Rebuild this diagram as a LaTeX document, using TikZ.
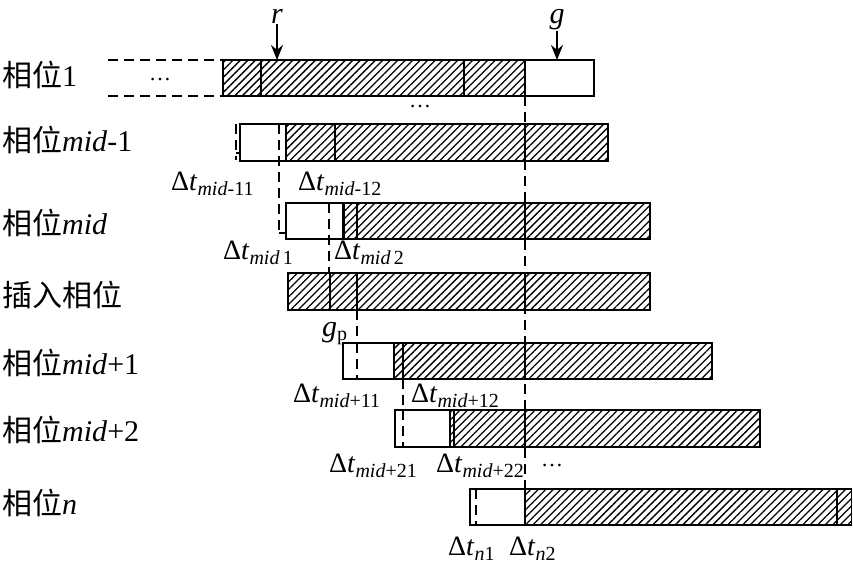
\documentclass[tikz,border=0pt]{standalone}
\usepackage{fontspec}
\setmainfont{Liberation Serif}
\newfontfamily\cjk{Noto Sans CJK SC}
\usetikzlibrary{patterns.meta,arrows.meta}
\newcommand\DT[1]{Δ\textit{t}\raisebox{-5pt}{\fontsize{20}{20}\selectfont #1}}
\begin{document}
\begin{tikzpicture}[x=1pt,y=-1pt,
  boxline/.style={line width=1.9pt},
  hatch/.style={pattern={Lines[angle=45,distance=5.3pt,line width=1.3pt]}},
  divline/.style={line width=1.2pt},
  thickdiv/.style={line width=1.9pt},
  dline/.style={line width=2pt,dash pattern=on 10pt off 6pt},
  rowlab/.style={anchor=base west,inner sep=0pt,font=\fontsize{30}{30}\selectfont},
  dlab/.style={anchor=base west,inner sep=0pt,font=\fontsize{28}{28}\selectfont},
  dots/.style={inner sep=0pt,font=\fontsize{22}{22}\selectfont},
  arr/.style={-{Stealth[length=15pt,width=12pt]},line width=2.2pt}]
\useasboundingbox (0,0) rectangle (853,563);

% ---------- dashed guide lines (behind boxes)
\draw[dline] (108,60) -- (223,60);
\draw[dline] (108,96) -- (223,96);
\draw[dline] (525,96) -- (525,489);
\draw[dline] (236,124) -- (236,160);
\draw[line width=1.8pt] (236,153) -- (240,153);
\draw[dline] (279,124) -- (279,236);
\draw[line width=1.8pt] (279,233) -- (286,233);
\draw[dline] (329,203) -- (329,273);
\draw[dline] (357,310) -- (357,379);
\draw[dline] (403,379) -- (403,447);

% ---------- row 1
\fill[white] (223,60) rectangle (594,96);
\fill[hatch] (223,60) rectangle (525,96);
\draw[divline] (261,60) -- (261,96);
\draw[divline] (464,60) -- (464,96);
\draw[boxline] (223,60) rectangle (594,96);
\draw[boxline] (525,60) -- (525,96);

% ---------- row mid-1
\fill[white] (240,124) rectangle (608,161);
\draw[dline] (279,124) -- (279,161);
\fill[hatch] (286,124) rectangle (608,161);
\draw[divline] (335,124) -- (335,161);
\draw[divline] (525,124) -- (525,161);
\draw[boxline] (240,124) rectangle (608,161);
\draw[boxline] (286,124) -- (286,161);

% ---------- row mid
\fill[white] (286,203) rectangle (650,239);
\draw[dline] (329,203) -- (329,239);
\fill[hatch] (343,203) rectangle (650,239);
\draw[divline] (357,203) -- (357,239);
\draw[divline] (525,203) -- (525,239);
\draw[boxline] (286,203) rectangle (650,239);
\draw[line width=3pt] (343,203) -- (343,239);

% ---------- inserted phase
\fill[white] (288,273) rectangle (650,310);
\fill[hatch] (288,273) rectangle (650,310);
\draw[divline] (330,273) -- (330,310);
\draw[divline] (357,273) -- (357,310);
\draw[divline] (525,273) -- (525,310);
\draw[boxline] (288,273) rectangle (650,310);

% ---------- row mid+1
\fill[white] (343,343) rectangle (712,379);
\draw[dline] (357,343) -- (357,379);
\fill[hatch] (394,343) rectangle (712,379);
\draw[divline] (403,343) -- (403,379);
\draw[divline] (525,343) -- (525,379);
\draw[boxline] (343,343) rectangle (712,379);
\draw[boxline] (394,343) -- (394,379);

% ---------- row mid+2
\fill[white] (395,410) rectangle (760,447);
\draw[dline] (403,410) -- (403,447);
\fill[hatch] (450,410) rectangle (760,447);
\draw[divline] (454,410) -- (454,447);
\draw[divline] (525,410) -- (525,447);
\draw[boxline] (395,410) rectangle (760,447);
\draw[boxline] (450,410) -- (450,447);

% ---------- row n
\fill[white] (470,489) rectangle (851.5,525);
\draw[dline] (476,489) -- (476,525);
\fill[hatch] (525,489) rectangle (851.5,525);
\draw[boxline] (470,489) rectangle (851.5,525);
\draw[boxline] (525,489) -- (525,525);
\draw[thickdiv] (837,489) -- (837,525);

% ---------- arrows r and g
\node[anchor=base,inner sep=1pt,font=\fontsize{30}{30}\selectfont\itshape] (r) at (277,23) {r};
\node[anchor=base,inner sep=1pt,font=\fontsize{30}{30}\selectfont\itshape] (g) at (557,23) {g};
\coordinate (rt) at (277,60);
\coordinate (gt) at (557,60);
\draw[arr] (r.south) -- (rt);
\draw[arr] (g.south) -- (gt);

% ---------- dots
\node[dots] (d1) at (160,80) {…};
\node[dots] (d2) at (420,107) {…};
\node[dots] (d3) at (552,466) {…};

% ---------- row labels
\node[rowlab] (l1) at (2,86) {{\cjk 相位}1};
\node[rowlab] (l2) at (2,151) {{\cjk 相位}\textit{mid}-1};
\node[rowlab] (l3) at (2,234) {{\cjk 相位}\textit{mid}};
\node[rowlab] (l4) at (2,306) {{\cjk 插入相位}};
\node[rowlab] (l5) at (2,374) {{\cjk 相位}\textit{mid}+1};
\node[rowlab] (l6) at (2,441) {{\cjk 相位}\textit{mid}+2};
\node[rowlab] (l7) at (2,514) {{\cjk 相位}\textit{n}};

% ---------- delta labels
\node[dlab] (a1) at (171,190) {\DT{\textit{mid}-11}};
\node[dlab] (a2) at (298,190) {\DT{\textit{mid}-12}};
\node[dlab] (b1) at (223,259) {\DT{\textit{mid}\,1}};
\node[dlab] (b2) at (334,259) {\DT{\textit{mid}\,2}};
\node[anchor=base west,inner sep=0pt] (gp) at (322,336) {\fontsize{30}{30}\selectfont\textit{g}\raisebox{-4pt}{\fontsize{20}{20}\selectfont p}};
\node[dlab] (c1) at (293,402) {\DT{\textit{mid}+11}};
\node[dlab] (c2) at (411,402) {\DT{\textit{mid}+12}};
\node[dlab] (e1) at (329,472) {\DT{\textit{mid}+21}};
\node[dlab] (e2) at (436,472) {\DT{\textit{mid}+22}};
\node[dlab] (f1) at (448,555) {\DT{\textit{n}1}};
\node[dlab] (f2) at (509,555) {\DT{\textit{n}2}};
\end{tikzpicture}
\end{document}
